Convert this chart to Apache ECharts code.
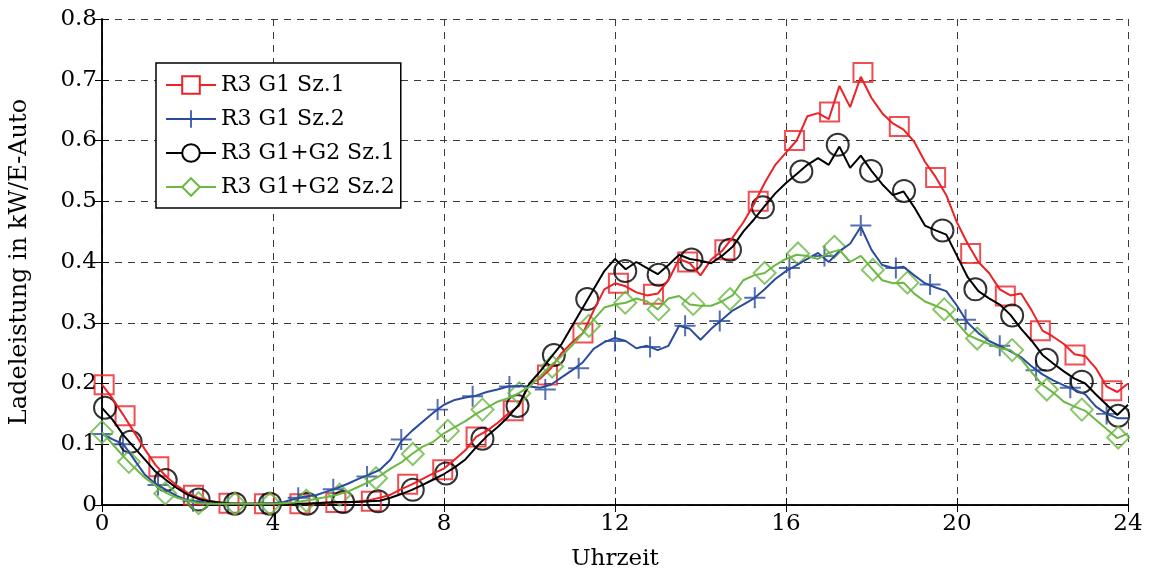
<!DOCTYPE html>
<html><head><meta charset="utf-8">
<script src="https://cdn.jsdelivr.net/npm/echarts@6/dist/echarts.min.js"></script>
<style>html,body{margin:0;padding:0;background:#fff}#c{width:1154px;height:576px}</style>
</head><body><div id="c"></div>
<script>
// ---- data ----
const seriesNames = ['R3 G1 Sz.1', 'R3 G1 Sz.2', 'R3 G1+G2 Sz.1', 'R3 G1+G2 Sz.2'];
const xTickLabels = ['0', '4', '8', '12', '16', '20', '24'];
const yTickLabels = ['0', '0.1', '0.2', '0.3', '0.4', '0.5', '0.6', '0.7', '0.8'];
const xAxisTitle = 'Uhrzeit';
const yAxisTitle = 'Ladeleistung in kW/E-Auto';

// values every 0.25 h from 0 to 24 h
const r3g1sz1 = [
  0.198,0.175,0.148,0.12, 0.092,0.066,0.047,0.032, 0.02,0.012,0.007,0.004, 0.003,0.002,0.002,0.002,
  0.002,0.002,0.002,0.002, 0.003,0.003,0.004,0.004, 0.006,0.008,0.012,0.017, 0.026,0.034,0.043,0.052,
  0.06,0.075,0.09,0.112, 0.122,0.135,0.15,0.163, 0.2,0.208,0.225,0.25, 0.268,0.283,0.32,0.355,
  0.365,0.36,0.35,0.345, 0.348,0.37,0.405,0.398, 0.378,0.404,0.418,0.44, 0.465,0.495,0.53,0.56,
  0.58,0.6,0.64,0.645, 0.635,0.69,0.655,0.705, 0.67,0.645,0.628,0.618, 0.598,0.565,0.54,0.51,
  0.465,0.43,0.4,0.382, 0.355,0.345,0.348,0.32, 0.287,0.277,0.265,0.248, 0.245,0.225,0.195,0.186,
  0.2];
const r3g1sz2 = [
  0.117,0.108,0.1,0.075, 0.05,0.035,0.025,0.015, 0.008,0.005,0.003,0.002, 0.002,0.002,0.002,0.002,
  0.003,0.005,0.01,0.014, 0.016,0.022,0.028,0.035, 0.043,0.05,0.058,0.075, 0.105,0.122,0.137,0.152,
  0.165,0.173,0.177,0.18, 0.186,0.19,0.195,0.196, 0.195,0.193,0.198,0.21, 0.222,0.235,0.257,0.268,
  0.275,0.27,0.258,0.262, 0.255,0.262,0.295,0.29, 0.272,0.29,0.305,0.32, 0.33,0.34,0.355,0.372,
  0.385,0.395,0.405,0.415, 0.4,0.418,0.43,0.458, 0.42,0.395,0.39,0.392, 0.378,0.365,0.358,0.352,
  0.328,0.3,0.283,0.27, 0.262,0.253,0.243,0.228, 0.215,0.205,0.197,0.19, 0.182,0.162,0.15,0.143,
  0.143];
const r3g1g2sz1 = [
  0.16,0.14,0.115,0.095, 0.075,0.055,0.041,0.028, 0.017,0.01,0.006,0.004, 0.002,0.002,0.002,0.002,
  0.002,0.002,0.002,0.002, 0.003,0.004,0.005,0.005, 0.005,0.006,0.007,0.012, 0.018,0.025,0.033,0.042,
  0.051,0.062,0.075,0.095, 0.113,0.128,0.145,0.165, 0.2,0.22,0.243,0.265, 0.295,0.325,0.355,0.385,
  0.405,0.388,0.4,0.39, 0.38,0.395,0.412,0.405, 0.402,0.398,0.41,0.425, 0.45,0.47,0.492,0.513,
  0.53,0.545,0.56,0.571, 0.56,0.59,0.555,0.575, 0.55,0.528,0.51,0.516, 0.49,0.46,0.452,0.445,
  0.41,0.375,0.352,0.34, 0.33,0.313,0.29,0.27, 0.247,0.233,0.22,0.208, 0.2,0.182,0.165,0.148,
  0.165];
const r3g1g2sz2 = [
  0.12,0.1,0.08,0.062, 0.045,0.032,0.02,0.012, 0.007,0.003,0.002,0.002, 0.002,0.002,0.002,0.002,
  0.002,0.003,0.004,0.007, 0.01,0.013,0.017,0.022, 0.03,0.038,0.048,0.06, 0.07,0.084,0.096,0.104,
  0.118,0.128,0.138,0.15, 0.16,0.17,0.176,0.184, 0.195,0.212,0.23,0.245, 0.263,0.283,0.305,0.325,
  0.33,0.333,0.34,0.335, 0.322,0.34,0.344,0.33, 0.328,0.328,0.335,0.345, 0.37,0.378,0.382,0.395,
  0.405,0.412,0.41,0.405, 0.415,0.42,0.4,0.41, 0.39,0.37,0.365,0.366, 0.348,0.335,0.328,0.32,
  0.3,0.28,0.272,0.265, 0.258,0.255,0.24,0.218, 0.198,0.185,0.17,0.162, 0.155,0.14,0.125,0.11,
  0.118];

// marker positions (hour) and values
const r3g1sz1MarkH = [0.05,0.54,1.33,2.14,2.97,3.8,4.63,5.47,6.3,7.15,7.97,8.75,9.62,10.42,11.25,12.08,12.9,13.7,14.57,15.35,16.2,17.02,17.8,18.65,19.5,20.32,21.13,21.95,22.76,23.62];
const r3g1sz1MarkV = [0.198,0.147,0.063,0.016,0.003,0.002,0.002,0.004,0.006,0.034,0.058,0.112,0.155,0.214,0.283,0.365,0.347,0.4,0.42,0.5,0.6,0.647,0.712,0.623,0.539,0.414,0.344,0.287,0.247,0.188];
const r3g1sz2MarkH = [0,0.49,1.31,2.13,2.95,3.77,4.59,5.41,6.2,7.0,7.85,8.67,9.53,10.37,11.15,12.0,12.82,13.64,14.45,15.27,16.08,16.9,17.75,18.57,19.37,20.2,21.0,21.85,22.65,23.5];
const r3g1sz2MarkV = [0.117,0.1,0.033,0.006,0.002,0.002,0.012,0.026,0.047,0.108,0.157,0.179,0.195,0.19,0.225,0.27,0.26,0.295,0.303,0.341,0.39,0.41,0.46,0.39,0.363,0.305,0.262,0.222,0.193,0.15];
const r3g1g2sz1MarkH = [0.07,0.67,1.49,2.26,3.11,3.93,4.8,5.64,6.46,7.27,8.05,8.9,9.72,10.57,11.35,12.24,13.02,13.79,14.69,15.46,16.36,17.21,17.99,18.76,19.66,20.43,21.29,22.1,22.92,23.77];
const r3g1g2sz1MarkV = [0.16,0.104,0.041,0.009,0.002,0.002,0.002,0.005,0.006,0.025,0.052,0.109,0.163,0.247,0.339,0.385,0.379,0.404,0.42,0.49,0.549,0.593,0.55,0.517,0.452,0.355,0.312,0.239,0.203,0.147];
const r3g1g2sz2MarkH = [0,0.63,1.48,2.26,3.11,3.93,4.78,5.56,6.41,7.27,8.09,8.9,9.76,10.53,11.39,12.24,13.02,13.83,14.69,15.5,16.28,17.13,18.03,18.84,19.7,20.47,21.29,22.1,22.92,23.77];
const r3g1g2sz2MarkV = [0.12,0.071,0.019,0.003,0.002,0.002,0.007,0.017,0.044,0.084,0.122,0.157,0.184,0.228,0.295,0.333,0.322,0.331,0.339,0.382,0.414,0.425,0.387,0.366,0.322,0.274,0.255,0.19,0.157,0.111];

// ---- build chart ----
const stepH = 0.25;
function toPairs(vals) { return vals.map((v, i) => [i * stepH, v]); }
function zipPairs(hs, vs) { return hs.map((h, i) => [h, vs[i]]); }

const FONT = 'DejaVu Serif';
const plusPath = 'path://M0,9.05L20,9.05L20,10.95L0,10.95Z M9.05,0L10.95,0L10.95,20L9.05,20Z';

const defs = [
  { name: seriesNames[0], vals: r3g1sz1, mh: r3g1sz1MarkH, mv: r3g1sz1MarkV, color: '#ec2227', sym: 'rect', legendSym: 'emptyRect', size: 19, filled: false },
  { name: seriesNames[1], vals: r3g1sz2, mh: r3g1sz2MarkH, mv: r3g1sz2MarkV, color: '#2b4c9e', sym: plusPath, legendSym: plusPath, size: 21, filled: true },
  { name: seriesNames[2], vals: r3g1g2sz1, mh: r3g1g2sz1MarkH, mv: r3g1g2sz1MarkV, color: '#000000', sym: 'circle', legendSym: 'emptyCircle', size: 22, filled: false },
  { name: seriesNames[3], vals: r3g1g2sz2, mh: r3g1g2sz2MarkH, mv: r3g1g2sz2MarkV, color: '#6cb843', sym: 'diamond', legendSym: 'emptyDiamond', size: 22, filled: false }
];

const series = [];
defs.forEach(d => {
  series.push({
    type: 'line', name: d.name, data: toPairs(d.vals),
    symbol: d.legendSym, showSymbol: false, symbolSize: d.size,
    itemStyle: { color: d.color },
    lineStyle: { color: d.color, width: 2 },
    animation: false, silent: true
  });
  series.push({
    type: 'scatter', name: d.name, data: zipPairs(d.mh, d.mv),
    symbol: d.sym, symbolSize: d.size,
    itemStyle: d.filled ? { color: d.color } : { color: 'rgba(0,0,0,0)', borderColor: d.color, borderWidth: 2 },
    animation: false, silent: true
  });
});

const axisLineStyle = { color: '#000', width: 1.5 };
const gridLine = { show: true, lineStyle: { color: '#3a3a3a', type: [7, 6], width: 1 } };
const tickStyle = { inside: true, length: 7, lineStyle: { color: '#000', width: 1 } };

const option = {
  backgroundColor: '#fff',
  animation: false,
  grid: { left: 100, right: 26, top: 19, bottom: 64, containLabel: false },
  legend: {
    data: seriesNames,
    orient: 'vertical', left: 156, top: 63,
    itemWidth: 50, itemHeight: 22, itemGap: 12,
    padding: [11, 6, 10, 9],
    backgroundColor: '#fff', borderColor: '#000', borderWidth: 1.5,
    textStyle: { fontFamily: FONT, fontSize: 22, color: '#000' },
    selectedMode: false
  },
  xAxis: [
    {
      type: 'value', min: 0, max: 24, interval: 4, position: 'bottom',
      axisLine: { lineStyle: axisLineStyle }, axisTick: tickStyle,
      axisLabel: { color: '#000', fontFamily: FONT, fontSize: 23, margin: 8,
        formatter: v => xTickLabels[Math.round(v / 4)] },
      splitLine: gridLine,
      name: xAxisTitle, nameLocation: 'middle', nameGap: 43,
      nameTextStyle: { color: '#000', fontFamily: FONT, fontSize: 23 }
    },
    {
      type: 'value', min: 0, max: 24, interval: 4, position: 'top',
      axisLine: { show: true, lineStyle: axisLineStyle }, axisTick: tickStyle,
      axisLabel: { show: false }, splitLine: { show: false }
    }
  ],
  yAxis: [
    {
      type: 'value', min: 0, max: 0.8, interval: 0.1, position: 'left',
      axisLine: { show: true, lineStyle: axisLineStyle }, axisTick: tickStyle,
      axisLabel: { color: '#000', fontFamily: FONT, fontSize: 23, margin: 5,
        formatter: v => yTickLabels[Math.round(v * 10)] },
      splitLine: gridLine,
      name: yAxisTitle, nameLocation: 'middle', nameGap: 70,
      nameTextStyle: { color: '#000', fontFamily: FONT, fontSize: 24 }
    },
    {
      type: 'value', min: 0, max: 0.8, interval: 0.1, position: 'right',
      axisLine: { show: true, lineStyle: axisLineStyle }, axisTick: tickStyle,
      axisLabel: { show: false }, splitLine: { show: false }
    }
  ],
  series: series
};

const chart = echarts.init(document.getElementById('c'), null, { renderer: 'canvas' });
chart.setOption(option);
</script>
</body></html>
